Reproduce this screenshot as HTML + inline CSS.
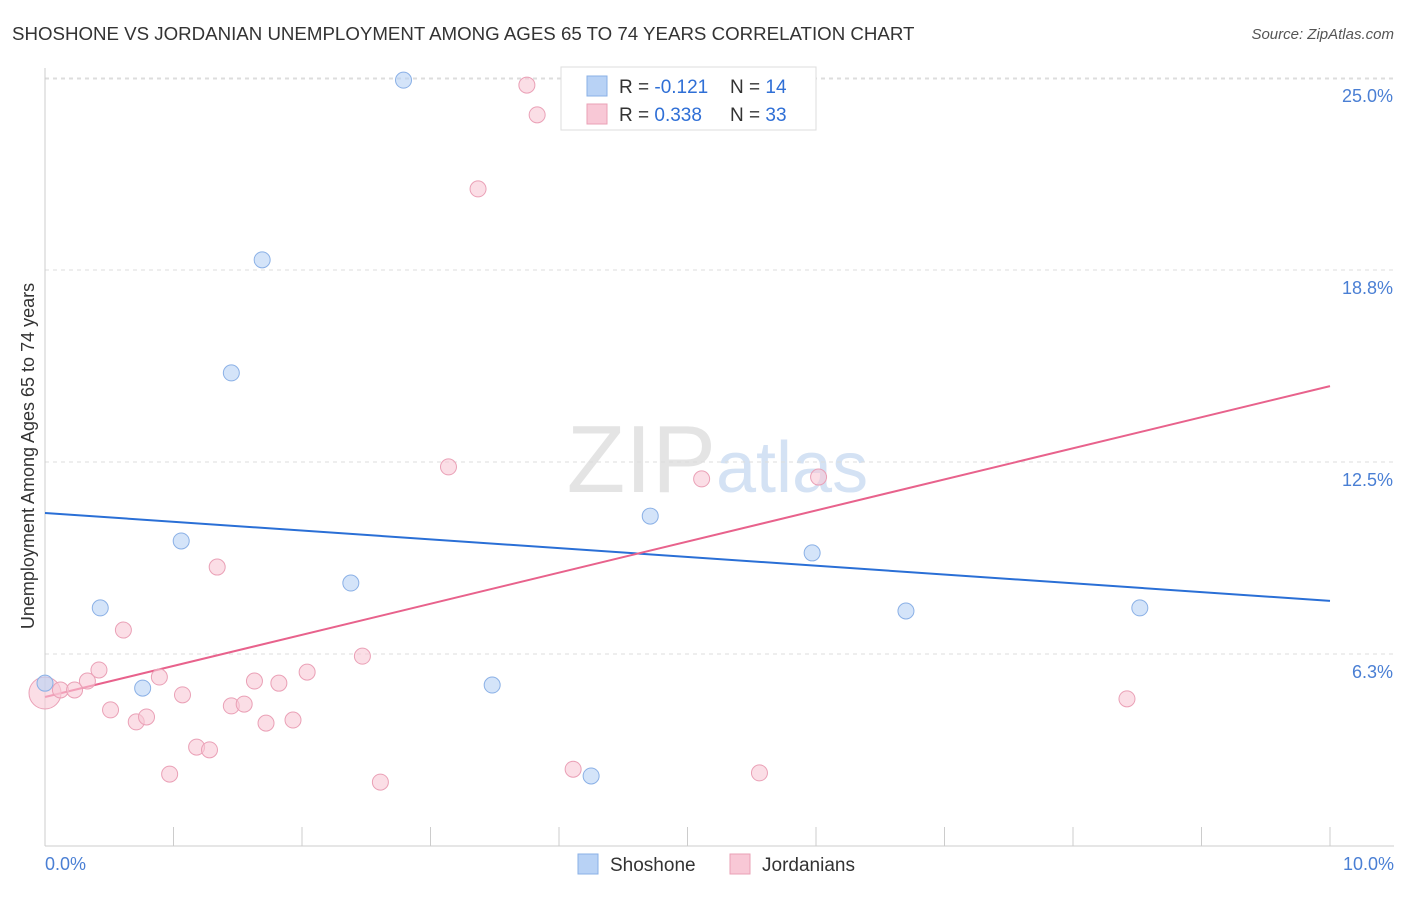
<!DOCTYPE html>
<html><head><meta charset="utf-8"><style>
body{margin:0;background:#fff;font-family:"Liberation Sans",sans-serif;}
svg text{font-family:"Liberation Sans",sans-serif;}
</style></head><body>
<svg width="1406" height="892" xmlns="http://www.w3.org/2000/svg">
<text x="12" y="40" font-size="18.7" fill="#333">SHOSHONE VS JORDANIAN UNEMPLOYMENT AMONG AGES 65 TO 74 YEARS CORRELATION CHART</text>
<text x="1394" y="39" font-size="15" fill="#555" text-anchor="end" font-style="italic">Source: ZipAtlas.com</text>
<text x="716" y="492" font-size="96" fill="#e4e4e4" text-anchor="end" font-family="Liberation Serif">ZIP</text>
<text x="716" y="492" font-size="72" fill="#d4e2f4">atlas</text>
<g id="grid"></g>
<line x1="45" y1="68" x2="45" y2="846" stroke="#ccc"/>
<line x1="45" y1="846" x2="1394" y2="846" stroke="#ccc"/>
<text x="34" y="456" font-size="18" fill="#333" text-anchor="middle" transform="rotate(-90 34 456)">Unemployment Among Ages 65 to 74 years</text>
<text x="45" y="870" font-size="18" fill="#4a7fd4">0.0%</text>
<text x="1394" y="870" font-size="18" fill="#4a7fd4" text-anchor="end">10.0%</text>
<g id="lines"></g>
<g id="pts"></g>
<g>
<rect x="561" y="67" width="255" height="63" fill="#fff" stroke="#ddd"/>
<rect x="587" y="76" width="20" height="20" fill="#b8d2f5" stroke="#8ab0e6"/>
<rect x="587" y="104" width="20" height="20" fill="#f8c8d6" stroke="#eaa0b6"/>
<text x="619" y="93" font-size="19" fill="#333">R = <tspan fill="#2f6fd6">-0.121</tspan><tspan x="730">N = </tspan><tspan fill="#2f6fd6">14</tspan></text>
<text x="619" y="121" font-size="19" fill="#333">R = <tspan fill="#2f6fd6"> 0.338</tspan><tspan x="730">N = </tspan><tspan fill="#2f6fd6">33</tspan></text>
</g>
<g>
<rect x="578" y="854" width="20" height="20" fill="#b8d2f5" stroke="#8ab0e6"/>
<text x="610" y="871" font-size="19" fill="#333">Shoshone</text>
<rect x="730" y="854" width="20" height="20" fill="#f8c8d6" stroke="#eaa0b6"/>
<text x="762" y="871" font-size="19" fill="#333">Jordanians</text>
</g>
</svg>
<script>
const yTicks=[6.25,12.5,18.75,25];
const yTickLabels=["6.3%","12.5%","18.8%","25.0%"];
const xTicks=[0,1,2,3,4,5,6,7,8,9,10];
const shoX=[0.0,0.43,0.76,1.06,1.45,1.69,2.38,2.79,3.48,4.25,4.71,5.97,6.70,8.52];
const shoY=[5.3,7.75,5.14,9.93,15.4,19.08,8.56,24.93,5.24,2.28,10.74,9.54,7.65,7.75];
const jorX=[0.12,0.23,0.33,0.42,0.51,0.61,0.71,0.79,0.89,0.97,1.07,1.18,1.28,1.34,1.45,1.55,1.63,1.72,1.82,1.93,2.04,2.47,2.61,3.14,3.37,3.75,3.83,4.11,5.11,5.56,6.02,8.42];
const jorY=[5.08,5.08,5.37,5.73,4.43,7.03,4.04,4.2,5.5,2.34,4.92,3.22,3.13,9.08,4.56,4.62,5.37,4.0,5.3,4.1,5.66,6.18,2.08,12.34,21.39,24.77,23.8,2.5,11.95,2.38,12.01,4.79];
const shoTrend=[10.84,7.98];
const jorTrend=[4.85,14.97];
const NS="http://www.w3.org/2000/svg";
const xs=v=>45+v*128.5, ys=v=>846-v*30.72;
function mk(t,a,p){const e=document.createElementNS(NS,t);for(const k in a)e.setAttribute(k,a[k]);document.getElementById(p).appendChild(e);return e;}
yTicks.forEach((t,i)=>{
 const l=mk('line',{x1:45,x2:1394,y1:ys(t),y2:ys(t),stroke:'#ddd','stroke-dasharray':'4,4'},'grid');
 
 
 const tx=mk('text',{x:1393,y:ys(t)+24,'font-size':18,fill:'#4a7fd4','text-anchor':'end'},'grid');
 tx.textContent=yTickLabels[i];
 
 
});
const topGrid=mk('line',{x1:45,x2:1394,y1:79,y2:79,stroke:'#ddd','stroke-dasharray':'4,4'},'grid');


xTicks.forEach(t=>{
 const l=mk('line',{x1:xs(t),x2:xs(t),y1:827,y2:846,stroke:'#ccc'},'grid');
 
 
});
const bl=mk('line',{x1:xs(0),y1:ys(shoTrend[0]),x2:xs(10),y2:ys(shoTrend[1]),stroke:'#2a6fd6','stroke-width':2},'lines');


const pl=mk('line',{x1:xs(0),y1:ys(jorTrend[0]),x2:xs(10),y2:ys(jorTrend[1]),stroke:'#e8628c','stroke-width':2},'lines');


const big=mk('circle',{cx:xs(0),cy:ys(4.98),r:16,fill:'#f8c8d6','fill-opacity':0.6,stroke:'#eaa0b6'},'pts');


jorX.forEach((x,i)=>{
 const c=mk('circle',{cx:xs(x),cy:ys(jorY[i]),r:8,fill:'#f8c8d6','fill-opacity':0.6,stroke:'#eaa0b6'},'pts');
 
 
});
shoX.forEach((x,i)=>{
 const c=mk('circle',{cx:xs(x),cy:ys(shoY[i]),r:8,fill:'#b8d2f5','fill-opacity':0.6,stroke:'#8ab0e6'},'pts');
 
 
});
</script>
</body></html>
